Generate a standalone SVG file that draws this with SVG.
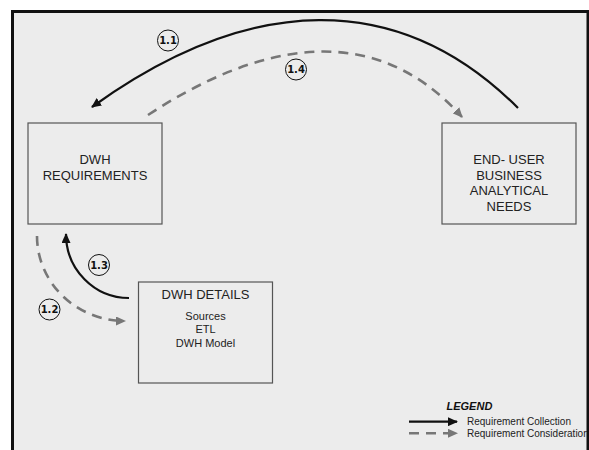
<svg xmlns="http://www.w3.org/2000/svg" width="589" height="450" viewBox="0 0 589 450">
<style>
.box{fill:#ececec;stroke:#555;stroke-width:1.2}
.t{font-family:"Liberation Sans",Arial,sans-serif;fill:#222;text-anchor:middle}
.big{font-size:13px}
.small{font-size:11px}
.solid{fill:none;stroke:#111;stroke-width:2.2}
.dash{fill:none;stroke:#777;stroke-width:2.6;stroke-dasharray:10,7}
.lbl circle{fill:none;stroke:#111;stroke-width:1}
.lbl text{font-family:"DejaVu Sans",Verdana,sans-serif;font-weight:bold;font-size:10px;fill:#111;text-anchor:middle}
.leg{font-family:"Liberation Sans",Arial,sans-serif;font-size:10px;fill:#222}
</style>
<defs>
<marker id="ab" markerUnits="userSpaceOnUse" markerWidth="11" markerHeight="9" refX="9" refY="4.5" orient="auto">
<path d="M0,0 L10,4.5 L0,9 z" fill="#111"/>
</marker>
<marker id="ag" markerUnits="userSpaceOnUse" markerWidth="11" markerHeight="9" refX="9" refY="4.5" orient="auto">
<path d="M0,0 L10,4.5 L0,9 z" fill="#777"/>
</marker>
</defs>
<rect x="0" y="0" width="589" height="450" fill="#fff"/>
<rect x="12.5" y="11.5" width="575.5" height="450" fill="#ececec" stroke="#111" stroke-width="3"/>

<g id="connectors">
<path id="c11" class="solid" d="M518,108 C398,-12 249,-6 92,107" marker-end="url(#ab)"/>
<path id="c14" class="dash" d="M148,115 C254.5,45.3 371.5,15.9 462,117" marker-end="url(#ag)"/>
<path id="c12" class="dash" d="M37,236 A88,85 0 0 0 125,321" marker-end="url(#ag)"/>
<path id="c13" class="solid" d="M129,298 A63,64 0 0 1 66,234" marker-end="url(#ab)"/>
</g>

<g id="labels">
<g id="l11" class="lbl"><circle cx="168" cy="40.5" r="10.5"/><text x="168" y="44.2">1.1</text></g>
<g id="l14" class="lbl"><circle cx="296" cy="69.5" r="10.5"/><text x="296" y="73.2">1.4</text></g>
<g id="l13" class="lbl"><circle cx="99" cy="265" r="10.5"/><text x="99" y="268.7">1.3</text></g>
<g id="l12" class="lbl"><circle cx="49.5" cy="309.5" r="10.5"/><text x="49.5" y="313.2">1.2</text></g>
</g>

<g id="dwh-requirements">
<rect class="box" x="28" y="123" width="134" height="101"/>
<text class="t big" x="95" y="164">DWH</text>
<text class="t big" x="95" y="180">REQUIREMENTS</text>
</g>

<g id="end-user-needs">
<rect class="box" x="442" y="123" width="134" height="101"/>
<text class="t big" x="509" y="164">END- USER</text>
<text class="t big" x="509" y="179.5">BUSINESS</text>
<text class="t big" x="509" y="195">ANALYTICAL</text>
<text class="t big" x="509" y="211">NEEDS</text>
</g>

<g id="dwh-details">
<rect class="box" x="138.5" y="282" width="134" height="101"/>
<text class="t big" x="205.5" y="298.5">DWH DETAILS</text>
<text class="t small" x="205.5" y="319.5">Sources</text>
<text class="t small" x="205.5" y="333.3">ETL</text>
<text class="t small" x="205.5" y="346.8">DWH Model</text>
</g>

<g id="legend">
<text x="446.5" y="410" font-family="'Liberation Sans',Arial,sans-serif" font-size="11" font-weight="bold" font-style="italic" fill="#111">LEGEND</text>
<line class="solid" x1="409" y1="421.7" x2="457" y2="421.7" stroke-width="2" marker-end="url(#ab)"/>
<text class="leg" x="467" y="425">Requirement Collection</text>
<line class="dash" x1="409" y1="433.3" x2="457" y2="433.3" stroke-dasharray="11,9" marker-end="url(#ag)"/>
<text class="leg" x="467" y="436.7">Requirement Consideration</text>
</g>
<line x1="588" y1="10" x2="588" y2="450" stroke="#111" stroke-width="2"/>
</svg>
